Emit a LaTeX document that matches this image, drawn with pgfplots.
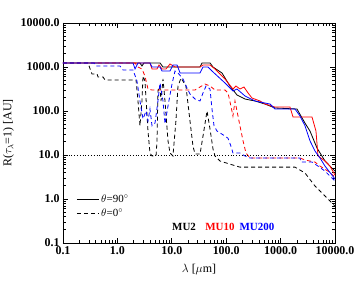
\documentclass[border=0pt]{standalone}
\usepackage{fontspec}
\setmainfont{Liberation Serif}
\usepackage{pgfplots}
\pgfplotsset{compat=1.18}
\begin{document}
\begin{tikzpicture}
\useasboundingbox (-63bp,-41bp) rectangle (291bp,243bp);
\begin{axis}[
  at={(0,0)}, anchor=south west,
  scale only axis, width=272bp, height=220bp,
  xmode=log, ymode=log,
  xmin=0.1, xmax=10000, ymin=0.1, ymax=10000,
  xtick={0.1,1,10,100,1000,10000},
  xticklabels={0.1,1.0,10.0,100.0,1000.0,10000.0},
  ytick={0.1,1,10,100,1000,10000},
  yticklabels={0.1,1.0,10.0,100.0,1000.0,10000.0},
  tick label style={font=\fontsize{12}{14}\selectfont\bfseries},
  major tick length=5bp, minor tick length=3bp,
  tick style={black, line width=0.6bp},
  axis line style={line width=0.8bp},
  xlabel={$\lambda$ [$\mu$m]},
  ylabel={R($\tau_\lambda$=1) [AU]},
  label style={font=\fontsize{12}{14}\selectfont},
  xlabel style={at={(axis description cs:0.5,-0.12)}, anchor=center},
  ylabel style={at={(axis description cs:-0.2,0.5)}, anchor=center, rotate=0},
  no markers,
  every axis plot/.append style={line width=0.8bp},
  legend style={at={(rel axis cs:0.045,0.235)}, anchor=north west, draw=none, fill=none,
    font=\fontsize{11}{12}\selectfont, row sep=1.5bp, inner sep=1bp},
  legend cell align=left,
  legend image code/.code={\draw[#1] (0bp,0bp) -- (22bp,0bp);},
]
% MU2, theta=90 (black solid)
\addplot[black, solid] coordinates {
(0.1,1233) (2.60,1233) (2.83,1054) (3.08,1233) (6.07,1233) (6.89,1000) (33.0,1000)
(35.9,1233) (50.4,1233) (57.2,1000) (83.7,731) (117,370) (158,231) (222,187) (338,169)
(516,144) (789,117) (2000,111) (2810,53) (3470,35) (4670,14.4) (6550,7.3) (8090,5.6) (10000,4.3)};
\addlegendentry{$\theta$=90$^\circ$}
% MU2, theta=0 (black dashed)
\addplot[black, dash pattern=on 4bp off 3bp] coordinates {
(0.1,1233) (0.288,1233) (0.341,693) (0.422,693) (0.440,593) (0.544,593) (0.592,507)
(2.20,507) (2.39,169) (2.60,46) (2.83,169) (2.96,624) (3.21,481) (3.65,35) (3.97,11.1)
(4.33,9.5) (5.13,9.5) (5.35,21) (5.57,285) (6.07,370) (6.33,169) (6.89,534) (7.50,169)
(8.51,21) (9.27,11.1) (10.5,9.5) (11.9,59) (13.0,370) (14.8,562) (18.2,370) (21.6,59)
(24.5,16) (26.7,10.5) (33.0,10.5) (37.5,27) (44.4,100) (50.4,39) (57.2,13.7) (62.2,9.5)
(76.9,7.3) (117,6.2) (179,5.3) (1840,5.3) (2810,3.9) (4290,1.97) (6550,1.17) (8090,0.90) (10000,0.69)};
\addlegendentry{$\theta$=0$^\circ$}
% MU10 solid (red)
\addplot[red, solid, forget plot] coordinates {
(0.1,1233) (3.97,1233) (4.33,901) (5.35,901) (5.82,1110) (6.61,901) (7.82,901) (9.27,1170)
(11.45,1000) (33.0,1000) (37.5,1110) (50.4,1110) (62.2,901) (95.0,534) (133,316) (151,370)
(179,316) (212,351) (252,257) (298,197) (418,169) (516,144) (789,123) (1489,123) (1690,73)
(3780,73) (4470,35) (4870,9.5) (6550,7.3) (8090,5.6) (10000,3.5)};
% MU10 dashed (red)
\addplot[red, dash pattern=on 4bp off 3bp, forget plot] coordinates {
(0.1,1233) (2.11,1233) (2.39,1000) (2.83,901) (3.21,624) (3.65,316) (4.33,300) (10.09,300)
(26.7,300) (33.0,351) (40.7,411) (50.4,370) (62.2,300) (95.0,300) (108,257) (122,130)
(133,77) (145,169) (158,100) (179,46) (204,21) (231,11.1) (274,8.55) (2274,8.55) (2810,7.7)
(4290,6.9) (5300,5.6) (7430,4.3) (10000,3.16)};
% MU200 solid (blue)
\addplot[blue, solid, forget plot] coordinates {
(0.1,1233) (1.94,1233) (2.11,901) (2.39,1233) (3.97,1233) (4.33,1000) (6.07,1000) (6.61,811)
(9.27,811) (10.5,1110) (12.5,1110) (14.2,731) (33.0,731) (37.5,1000) (46.3,1000) (54.8,811)
(95.0,433) (133,285) (158,316) (222,219) (338,169) (638,144) (789,111) (1840,111) (2274,77)
(2810,46) (3470,21) (4290,12.3) (5300,8.55) (6550,5.6) (10000,2.85)};
% MU200 dashed (blue)
\addplot[blue, dash pattern=on 4bp off 3bp, forget plot] coordinates {
(0.1,1233) (0.372,1233) (0.404,1054) (1.116,1054) (1.27,855) (1.94,855) (2.29,481) (2.60,169)
(2.96,66) (3.36,100) (3.65,59) (3.97,111) (4.33,46) (4.91,53) (5.57,169) (6.07,433) (6.89,169)
(7.50,51) (8.51,130) (10.09,411) (11.45,811) (13.0,731) (16.1,534) (19.0,333) (21.6,243)
(26.7,187) (33.0,169) (37.5,257) (42.6,370) (50.4,316) (54.8,111) (59.7,46) (67.8,35) (95.0,27)
(108,24) (122,16) (133,11.1) (179,11.1) (222,9.5) (274,8.55) (2274,8.55) (2370,6.9) (3780,6.9)
(4870,5.6) (6550,4.3) (10000,2.56)};
% reference level R = 10 AU
\addplot[black, dotted, line width=0.6bp, forget plot] coordinates {(0.1,10) (10000,10)};
\node[anchor=center, inner sep=0pt, font=\fontsize{11}{12}\selectfont\bfseries, text=black] at (rel axis cs:0.445,0.073) {MU2};
\node[anchor=center, inner sep=0pt, font=\fontsize{11}{12}\selectfont\bfseries, text=red] at (rel axis cs:0.577,0.073) {MU10};
\node[anchor=center, inner sep=0pt, font=\fontsize{11}{12}\selectfont\bfseries, text=blue] at (rel axis cs:0.713,0.073) {MU200};
\end{axis}
\end{tikzpicture}
\end{document}
